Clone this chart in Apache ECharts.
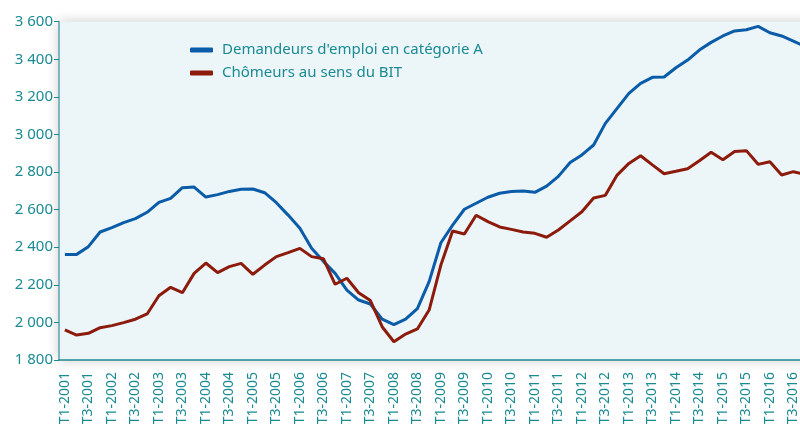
<!DOCTYPE html>
<html>
<head>
<meta charset="utf-8">
<script src="https://cdn.jsdelivr.net/npm/echarts@6/dist/echarts.min.js"></script>
<style>
    html, body { margin: 0; padding: 0; background: #ffffff; }
    #chart { width: 800px; height: 428px; }
</style>
</head>
<body>
<div id="chart"></div>
<script>
    // trimestres T1-2001 ... T4-2016
    var years = [2001, 2002, 2003, 2004, 2005, 2006, 2007, 2008, 2009, 2010, 2011, 2012, 2013, 2014, 2015, 2016];
    var quarters = ['T1', 'T2', 'T3', 'T4'];
    var categories = [];
    years.forEach(function (y) {
        quarters.forEach(function (q) { categories.push(q + '-' + y); });
    });

    // en milliers
    var demandeursA = [
        2362, 2362, 2403, 2481, 2504, 2531, 2552, 2586,
        2639, 2660, 2717, 2720, 2667, 2680, 2697, 2708,
        2710, 2690, 2637, 2571, 2501, 2394, 2325, 2261,
        2172, 2119, 2098, 2017, 1988, 2017, 2073, 2217,
        2424, 2518, 2602, 2634, 2666, 2687, 2697, 2699,
        2692, 2725, 2777, 2851, 2891, 2944, 3059, 3139,
        3219, 3272, 3304, 3306, 3355, 3396, 3449, 3490,
        3524, 3551, 3557, 3575, 3541, 3524, 3497, 3469
    ];
    var chomeursBIT = [
        1960, 1933, 1942, 1972, 1983, 1999, 2017, 2045,
        2142, 2187, 2158, 2261, 2316, 2265, 2297, 2314,
        2256, 2305, 2350, 2371, 2394, 2350, 2339, 2203,
        2235, 2158, 2116, 1977, 1897, 1938, 1965, 2066,
        2305, 2486, 2470, 2570, 2536, 2508, 2495, 2481,
        2474, 2453, 2492, 2540, 2589, 2662, 2676, 2784,
        2846, 2887, 2838, 2791, 2804, 2818, 2860, 2905,
        2866, 2909, 2914, 2841, 2855, 2784, 2802, 2788
    ];

    var teal = '#1a8a93';
    var myChart = echarts.init(document.getElementById('chart'));
    myChart.setOption({
        animation: false,
        textStyle: { fontFamily: 'Noto Sans', color: teal },
        legend: {
            data: ['Demandeurs d\'emploi en catégorie A', 'Chômeurs au sens du BIT'],
            orient: 'vertical',
            left: 190,
            top: 41,
            padding: 0,
            itemGap: 5,
            itemWidth: 23,
            itemHeight: 5,
            icon: 'roundRect',
            textStyle: { color: teal, fontSize: 15, lineHeight: 18, padding: [0, 0, 0, 4] }
        },
        grid: {
            left: 59,
            right: -11,
            top: 21.7,
            bottom: 68,
            containLabel: false,
            outerBoundsMode: 'none',
            show: true,
            borderWidth: 0,
            backgroundColor: '#ecf5f8',
            shadowBlur: 12,
            shadowColor: 'rgba(0,0,0,0.22)'
        },
        xAxis: {
            type: 'category',
            data: categories,
            boundaryGap: true,
            axisLine: { lineStyle: { color: teal, width: 1.5 } },
            axisTick: { interval: 0, length: 4, lineStyle: { color: teal } },
            axisLabel: {
                interval: 1,
                rotate: 90,
                color: teal,
                fontSize: 14,
                margin: 12
            }
        },
        yAxis: {
            type: 'value',
            min: 1800,
            max: 3600,
            interval: 200,
            axisLine: { show: true, lineStyle: { color: '#7fb6bd', width: 2 } },
            axisTick: { show: true, length: 5, lineStyle: { color: teal } },
            splitLine: { show: false },
            axisLabel: {
                color: teal,
                fontSize: 15,
                margin: 6,
                formatter: function (v) {
                    return String(v).replace(/\B(?=(\d{3})+(?!\d))/g, ' ');
                }
            }
        },
        series: [
            {
                name: 'Demandeurs d\'emploi en catégorie A',
                type: 'line',
                data: demandeursA,
                symbol: 'none',
                itemStyle: { color: '#0a5ca9' },
                lineStyle: { color: '#0a5ca9', width: 3 }
            },
            {
                name: 'Chômeurs au sens du BIT',
                type: 'line',
                data: chomeursBIT,
                symbol: 'none',
                itemStyle: { color: '#8c1b0b' },
                lineStyle: { color: '#8c1b0b', width: 3 }
            }
        ]
    });
</script>
</body>
</html>
